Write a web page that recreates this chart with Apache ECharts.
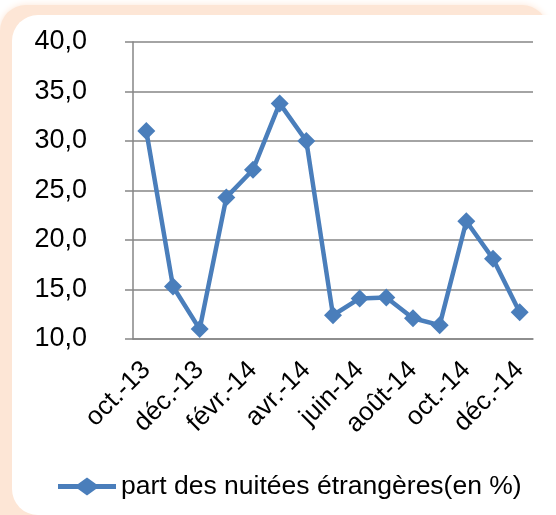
<!DOCTYPE html>
<html>
<head>
<meta charset="utf-8">
<script src="https://cdn.jsdelivr.net/npm/echarts@6/dist/echarts.min.js"></script>
<style>
  html, body { margin: 0; padding: 0; background: #fff; }
  #chart { width: 556px; height: 515px; }
</style>
</head>
<body>
<div id="chart"></div>
<script>
const months = ['oct.-13', 'nov.-13', 'déc.-13', 'janv.-14', 'févr.-14', 'mars-14', 'avr.-14',
  'mai-14', 'juin-14', 'juil.-14', 'août-14', 'sept.-14', 'oct.-14', 'nov.-14', 'déc.-14']
const partEtrangeres = [31.0, 15.3, 11.0, 24.3, 27.1, 33.8, 30.0, 12.4, 14.1, 14.2, 12.1, 11.4, 21.9, 18.1, 12.7]
const seriesName = 'part des nuitées étrangères(en %)'

const chart = echarts.init(document.getElementById('chart'))

const font = 'Liberation Sans, Arial, sans-serif'
const blue = '#4a7ebb'

// legend icon: thick line with a diamond in the middle (58 x 18 box)
const legendIcon = 'path://M0 6.5 L20 6.5 L29 0 L38 6.5 L58 6.5 L58 11.5 L38 11.5 L29 18 L20 11.5 L0 11.5 Z'

const option = {
  animation: false,
  backgroundColor: '#fff',
  textStyle: { fontFamily: font },
  // peach glowing frame behind the white card (top and left only)
  graphic: [
    {
      type: 'rect',
      z: -20,
      silent: true,
      shape: { x: 0, y: 5, width: 548, height: 560, r: 26 },
      style: {
        fill: '#fde6d6',
        shadowBlur: 7,
        shadowColor: '#fde6d6'
      }
    },
    {
      type: 'rect',
      z: -10,
      silent: true,
      shape: { x: 12, y: 15, width: 600, height: 500, r: 26 },
      style: { fill: '#fff' }
    }
  ],
  grid: {
    left: 133,
    right: 23,
    top: 42,
    bottom: 176,
    containLabel: false
  },
  legend: {
    left: 53,
    top: 468,
    icon: legendIcon,
    itemWidth: 58,
    itemHeight: 18,
    itemGap: 3,
    itemStyle: { color: blue },
    textStyle: { fontSize: 26.5, color: '#000', fontFamily: font },
    data: [seriesName]
  },
  xAxis: {
    type: 'category',
    data: months,
    boundaryGap: true,
    axisLine: { lineStyle: { color: '#868686', width: 1.5 } },
    axisTick: { interval: 1, length: 8, lineStyle: { color: '#868686', width: 1.5 } },
    axisLabel: {
      interval: 1,
      rotate: 45,
      margin: 27,
      fontSize: 26,
      color: '#000',
      fontFamily: font
    }
  },
  yAxis: {
    type: 'value',
    min: 10,
    max: 40,
    interval: 5,
    axisLine: { show: true, lineStyle: { color: '#868686', width: 1.5 } },
    axisTick: { show: true, length: 8, lineStyle: { color: '#868686', width: 1.5 } },
    splitLine: { lineStyle: { color: '#868686', width: 1.5 } },
    axisLabel: {
      margin: 46,
      fontSize: 27,
      color: '#000',
      fontFamily: font,
      formatter: v => v.toFixed(1).replace('.', ',')
    }
  },
  series: [
    {
      name: seriesName,
      type: 'line',
      data: partEtrangeres,
      symbol: 'diamond',
      symbolSize: 18,
      showAllSymbol: true,
      lineStyle: { color: blue, width: 4.5 },
      itemStyle: { color: blue }
    }
  ]
}

chart.setOption(option)
</script>
</body>
</html>
